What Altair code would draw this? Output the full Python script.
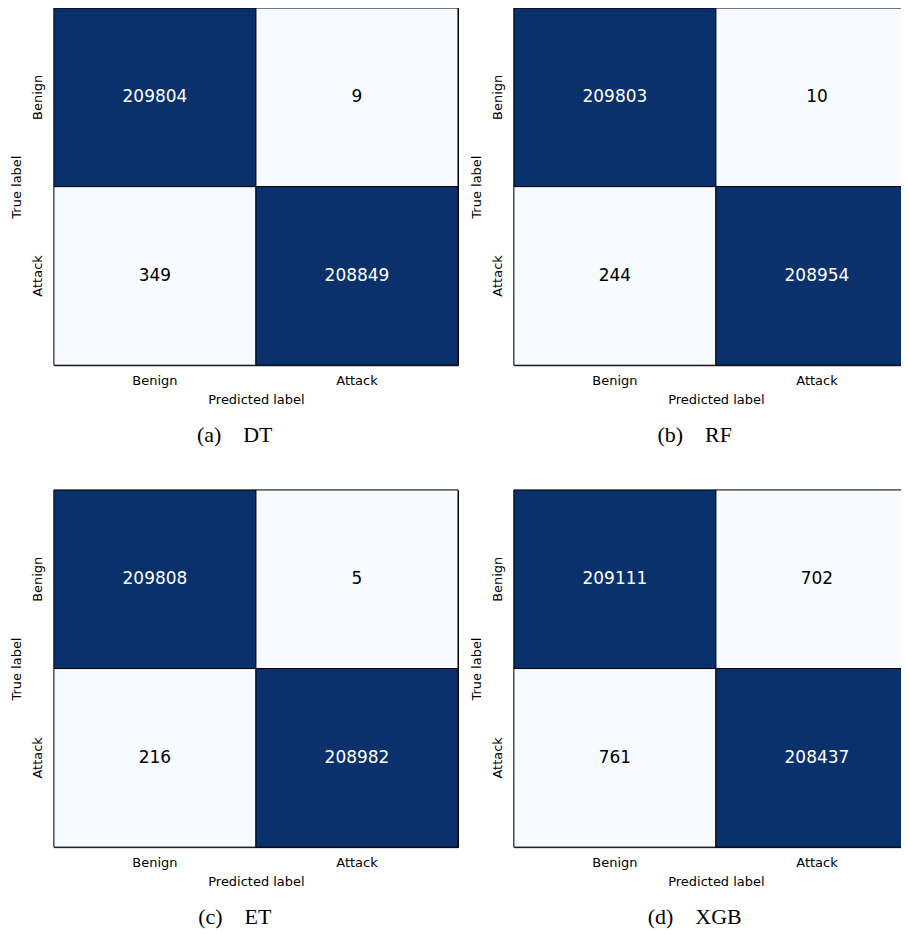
import altair as alt
import pandas as pd

captions = ["(a)\u2003DT", "(b)\u2003RF", "(c)\u2003ET", "(d)\u2003XGB"]
true_benign_pred_benign = [209804, 209803, 209808, 209111]
true_benign_pred_attack = [9, 10, 5, 702]
true_attack_pred_benign = [349, 244, 216, 761]
true_attack_pred_attack = [208849, 208954, 208982, 208437]
class_labels = ["Benign", "Attack"]

W, H = 405, 358


def panel(i):
    vals = [true_benign_pred_benign[i], true_benign_pred_attack[i],
            true_attack_pred_benign[i], true_attack_pred_attack[i]]
    df = pd.DataFrame({
        "true": ["Benign", "Benign", "Attack", "Attack"],
        "pred": ["Benign", "Attack", "Benign", "Attack"],
        "v": vals,
    })
    lo, hi = min(vals), max(vals)
    mid = (lo + hi) / 2
    base = alt.Chart(df).encode(
        x=alt.X("pred:N", sort=class_labels, title="Predicted label",
                axis=alt.Axis(labelAngle=0, ticks=False, domain=False,
                              labelPadding=9, titlePadding=6,
                              labelFontSize=13, titleFontSize=13,
                              labelFont="DejaVu Sans", titleFont="DejaVu Sans",
                              titleFontWeight="normal", labelColor="black",
                              titleColor="black")),
        y=alt.Y("true:N", sort=class_labels, title="True label",
                axis=alt.Axis(labelAngle=-90, labelAlign="center",
                              labelBaseline="bottom", ticks=False, domain=False,
                              labelPadding=9, titlePadding=8,
                              labelFontSize=13, titleFontSize=13,
                              labelFont="DejaVu Sans", titleFont="DejaVu Sans",
                              titleFontWeight="normal", labelColor="black",
                              titleColor="black")),
    )
    rect = base.mark_rect(stroke="black", strokeWidth=1).encode(
        color=alt.Color("v:Q", legend=None,
                        scale=alt.Scale(domain=[lo, hi],
                                        range=["#f7fbff", "#08306b"])))
    text = base.mark_text(font="DejaVu Sans", fontSize=17).encode(
        text=alt.Text("v:Q", format="d"),
        color=alt.condition(f"datum.v > {mid}", alt.value("white"),
                            alt.value("black")))
    return alt.layer(rect, text).properties(
        width=W, height=H,
        title=alt.TitleParams(text=captions[i], orient="bottom",
                              anchor="middle", frame="bounds",
                              font="Liberation Serif", fontSize=22,
                              fontWeight="normal", color="black", offset=19),
    ).resolve_scale(color="independent")


row1 = alt.hconcat(panel(0), panel(1), spacing=11).resolve_scale(color="independent")
row2 = alt.hconcat(panel(2), panel(3), spacing=11).resolve_scale(color="independent")
chart = alt.vconcat(row1, row2, spacing=42).resolve_scale(color="independent").properties(
    padding={"left": 2, "top": -2, "right": -18, "bottom": -1}
).configure_view(stroke="black", strokeWidth=1)

chart.save("out.html", embed_options={"renderer": "svg", "actions": False})
